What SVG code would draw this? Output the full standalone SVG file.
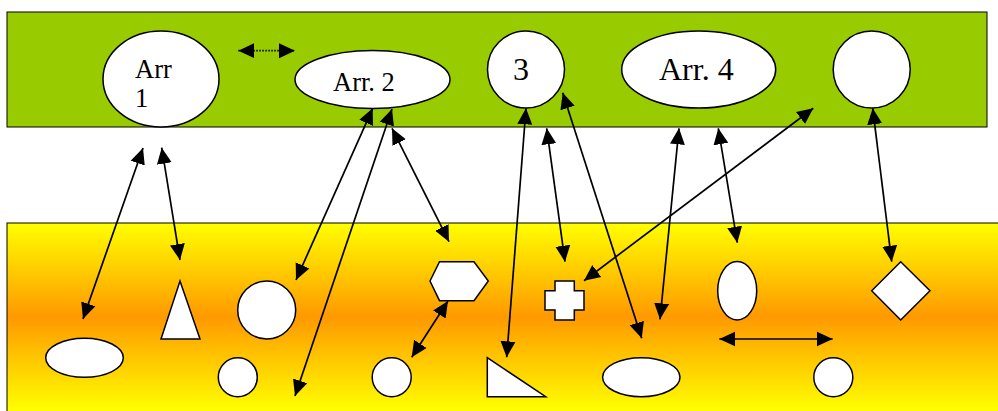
<svg xmlns="http://www.w3.org/2000/svg" width="998" height="411" viewBox="0 0 998 411">
<defs>
<linearGradient id="yg" x1="0" y1="223" x2="0" y2="411" gradientUnits="userSpaceOnUse">
<stop offset="0" stop-color="#FFFF00"/>
<stop offset="0.5" stop-color="#FF9900"/>
<stop offset="1" stop-color="#FFFF00"/>
</linearGradient>
<marker id="ah" markerUnits="userSpaceOnUse" markerWidth="16" markerHeight="16" viewBox="0 0 15 14" refX="15" refY="7" orient="auto-start-reverse">
<path d="M0,0 L15,7 L0,14 z" fill="#000"/>
</marker>
</defs>
<style>
.shape{fill:#fff;stroke:#000;stroke-width:1.5}
.lbl{font-family:"Liberation Serif","Times New Roman",serif;fill:#000}
.con{stroke:#000;stroke-width:1.7;fill:none;marker-start:url(#ah);marker-end:url(#ah)}
.dot{stroke-dasharray:1.5 1.5}
</style>
<rect id="band-top" x="7" y="12" width="980" height="115" fill="#99CC00" stroke="#000" stroke-width="1"/>
<rect id="band-bottom" x="7" y="223" width="1000" height="200" fill="url(#yg)" stroke="#000" stroke-width="1"/>

<g id="n-arr1"><ellipse class="shape" cx="161" cy="79" rx="58" ry="48"/>
<text class="lbl" font-size="26.5" x="135" y="78.3">Arr</text><text class="lbl" font-size="26.5" x="135" y="106.7">1</text></g>
<g id="n-arr2"><ellipse class="shape" cx="372.5" cy="79.5" rx="77.5" ry="29"/>
<text class="lbl" font-size="26.5" x="333" y="91">Arr. 2</text></g>
<g id="n-3"><circle class="shape" cx="526" cy="69.5" r="38.5"/>
<text class="lbl" font-size="32" x="513" y="80.3">3</text></g>
<g id="n-arr4"><ellipse class="shape" cx="698.7" cy="69.5" rx="77" ry="38.5"/>
<text class="lbl" font-size="32" x="659" y="80.3">Arr. 4</text></g>
<g id="n-c5"><circle class="shape" cx="871.7" cy="69.5" r="38.5"/></g>

<g id="s-ellipse1"><ellipse class="shape" cx="84.5" cy="357.8" rx="38.8" ry="19.5"/></g>
<g id="s-tri"><polygon class="shape" points="180,281 200,339 161,339"/></g>
<g id="s-bigcircle"><circle class="shape" cx="266.7" cy="310" r="29"/></g>
<g id="s-circle1"><circle class="shape" cx="237.8" cy="377.2" r="19.5"/></g>
<g id="s-hex"><polygon class="shape" points="430,281 439.5,261.7 474,261.7 488.3,281 474,300.7 439.5,300.7"/></g>
<g id="s-circle2"><circle class="shape" cx="391.7" cy="377.2" r="19.5"/></g>
<g id="s-rtri"><polygon class="shape" points="487.3,357.7 487.3,396.7 545.7,396.7"/></g>
<g id="s-cross"><polygon class="shape" points="555,281 574.3,281 574.3,290.7 584,290.7 584,310 574.3,310 574.3,320 555,320 555,310 545,310 545,290.7 555,290.7"/></g>
<g id="s-ellipse2"><ellipse class="shape" cx="641.3" cy="377.2" rx="38.7" ry="19.5"/></g>
<g id="s-vellipse"><ellipse class="shape" cx="737.2" cy="290.8" rx="19.5" ry="29.2"/></g>
<g id="s-diamond"><polygon class="shape" points="871.7,290.7 900.7,261.7 930,290.7 900.7,320"/></g>
<g id="s-circle3"><circle class="shape" cx="833.3" cy="377.2" r="19.5"/></g>

<g id="connectors">
<line class="con" x1="143" y1="148" x2="83" y2="319"/>
<line class="con" x1="161.7" y1="147.7" x2="180" y2="260"/>
<line class="con" x1="372.7" y1="108.3" x2="296" y2="280"/>
<line class="con" x1="392" y1="109" x2="295" y2="396"/>
<line class="con" x1="392" y1="128.3" x2="449" y2="241.7"/>
<line class="con" x1="448" y1="301" x2="411.7" y2="357.3"/>
<line class="con" x1="526" y1="108.3" x2="506.7" y2="357.3"/>
<line class="con" x1="546.7" y1="128.3" x2="565" y2="261.7"/>
<line class="con" x1="562.7" y1="92.7" x2="641.7" y2="338.3"/>
<line class="con" x1="679" y1="128.3" x2="660" y2="319.3"/>
<line class="con" x1="718.3" y1="128.3" x2="737.3" y2="242.7"/>
<line class="con" x1="813.3" y1="108.3" x2="584" y2="280.7"/>
<line class="con" x1="872.7" y1="108.3" x2="891.7" y2="261.7"/>
<line class="con" x1="719.3" y1="339" x2="832.7" y2="339"/>
<line class="con dot" x1="238.3" y1="50.7" x2="295" y2="50.7"/>
</g>
</svg>
